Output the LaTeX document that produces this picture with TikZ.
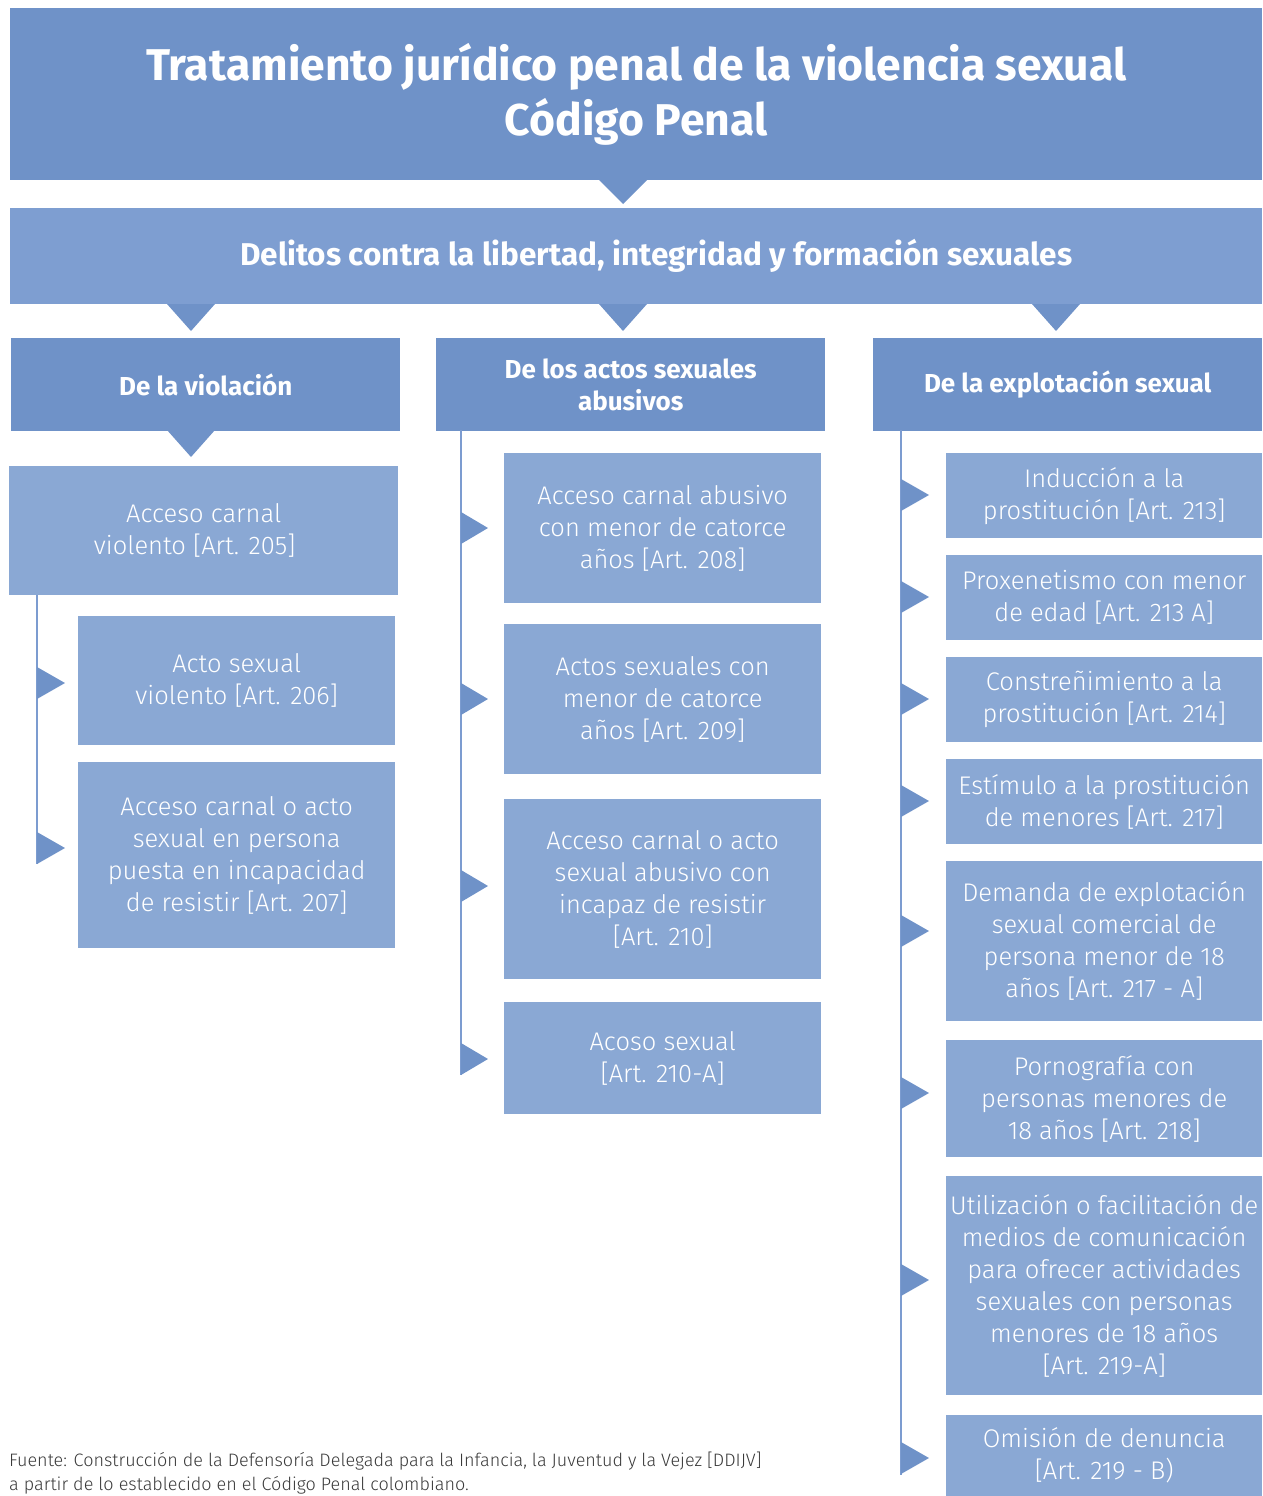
\documentclass[tikz,border=0pt]{standalone}
\usepackage{fontspec}
\setmainfont{Fira Sans Light}
\newfontfamily\hdf{Fira Sans}
\definecolor{hdr}{HTML}{6F92C8}
\definecolor{sub}{HTML}{7E9ED1}
\definecolor{itm}{HTML}{8AA8D4}
\definecolor{lin}{HTML}{7C9CD0}
\definecolor{foot}{HTML}{3A3A3A}
\begin{document}
\begin{tikzpicture}[x=1pt,y=-1pt,
  base/.style={draw=none, inner sep=0pt, anchor=north west, align=center, text=white},
  titlebox/.style={base, fill=hdr, font=\hdf\bfseries\fontsize{44.5}{55}\selectfont},
  subbox/.style={base, fill=sub, font=\hdf\bfseries\fontsize{31.5}{36}\selectfont},
  colbox/.style={base, fill=hdr, minimum width=389pt, minimum height=93pt, font=\hdf\bfseries\fontsize{26}{32}\selectfont},
  itembox/.style={base, fill=itm, font=\fontsize{25.5}{32}\selectfont},
  tri/.style={fill=hdr},
  vline/.style={draw=lin, line width=1.5pt}]
\useasboundingbox (0,0) rectangle (1263,1496);

% title
\node[titlebox, minimum width=1252pt, minimum height=172pt] (title) at (10,8)
  {Tratamiento jurídico penal de la violencia sexual\\Código Penal};
\fill[tri] (599,180) -- (647,180) -- (623,204) -- cycle;

\node[subbox, minimum width=1252pt, minimum height=96pt] (sub) at (10,208)
  {\hspace*{40pt}Delitos contra la libertad, integridad y formación sexuales};
\fill[tri] (167,304) -- (215,304) -- (191,331) -- cycle;
\fill[tri] (599,304) -- (647,304) -- (623,331) -- cycle;
\fill[tri] (1032,304) -- (1080,304) -- (1056,331) -- cycle;

% column headers
\node[colbox] (c1) at (11,338) {De la violación};
\node[colbox] (c2) at (436,338) {De los actos sexuales\\abusivos};
\node[colbox] (c3) at (873,338) {De la explotación sexual};
\fill[tri] (167,430) -- (215,430) -- (191,457) -- cycle;

% column 1
\node[itembox, minimum width=389pt, minimum height=129pt] (a205) at (9,466)
  {Acceso carnal\\violento [Art. 205]\hspace*{18pt}};
\node[itembox, minimum width=317pt, minimum height=129pt] (a206) at (78,616)
  {Acto sexual\\violento [Art. 206]};
\node[itembox, minimum width=317pt, minimum height=186pt] (a207) at (78,762)
  {Acceso carnal o acto\\sexual en persona\\puesta en incapacidad\\de resistir [Art. 207]};
\coordinate (l1s) at (37,595);
\coordinate (l1e) at (37,864);
\draw[vline] (l1s) -- (l1e);
\foreach \yy in {683, 848}
  \fill[tri] (37,\yy-16) -- (65,\yy) -- (37,\yy+16) -- cycle;

% column 2
\node[itembox, minimum width=317pt, minimum height=150pt] (a208) at (504,453)
  {Acceso carnal abusivo\\con menor de catorce\\años [Art. 208]};
\node[itembox, minimum width=317pt, minimum height=150pt] (a209) at (504,624)
  {Actos sexuales con\\menor de catorce\\años [Art. 209]};
\node[itembox, minimum width=317pt, minimum height=180pt] (a210) at (504,799)
  {Acceso carnal o acto\\sexual abusivo con\\incapaz de resistir\\{[}Art. 210{]}};
\node[itembox, minimum width=317pt, minimum height=112pt] (a210a) at (504,1002)
  {Acoso sexual\\{[}Art. 210-A{]}};
\coordinate (l2s) at (461,430);
\coordinate (l2e) at (461,1075);
\draw[vline] (l2s) -- (l2e);
\foreach \yy in {528, 699, 886, 1059}
  \fill[tri] (461,\yy-16) -- (488,\yy) -- (461,\yy+16) -- cycle;

% column 3
\node[itembox, minimum width=316pt, minimum height=85pt] (a213) at (946,453)
  {Inducción a la\\prostitución [Art. 213]};
\node[itembox, minimum width=316pt, minimum height=85pt] (a213a) at (946,555)
  {Proxenetismo con menor\\de edad [Art. 213 A]};
\node[itembox, minimum width=316pt, minimum height=85pt] (a214) at (946,657)
  {Constreñimiento a la\\prostitución [Art. 214]};
\node[itembox, minimum width=316pt, minimum height=85pt] (a217) at (946,759)
  {Estímulo a la prostitución\\de menores [Art. 217]};
\node[itembox, minimum width=316pt, minimum height=160pt] (a217a) at (946,861)
  {Demanda de explotación\\sexual comercial de\\persona menor de 18\\años [Art. 217 - A]};
\node[itembox, minimum width=316pt, minimum height=117pt] (a218) at (946,1040)
  {Pornografía con\\personas menores de\\18 años [Art. 218]};
\node[itembox, minimum width=316pt, minimum height=219pt] (a219a) at (946,1176)
  {Utilización o facilitación de\\medios de comunicación\\para ofrecer actividades\\sexuales con personas\\menores de 18 años\\{[}Art. 219-A{]}};
\node[itembox, minimum width=316pt, minimum height=81pt] (a219b) at (946,1415)
  {Omisión de denuncia\\{[}Art. 219 - B)};
\coordinate (l3s) at (901,430);
\coordinate (l3e) at (901,1475);
\draw[vline] (l3s) -- (l3e);
\foreach \yy in {495, 597, 699, 801, 931, 1093, 1280, 1458}
  \fill[tri] (901,\yy-16) -- (929,\yy) -- (901,\yy+16) -- cycle;

% footer
\node[anchor=west, inner sep=0pt, align=left, text=foot, font=\fontsize{18}{24}\selectfont] (foot) at (9,1473)
  {Fuente: Construcción de la Defensoría Delegada para la Infancia, la Juventud y la Vejez [DDIJV]\\a partir de lo establecido en el Código Penal colombiano.};
\end{tikzpicture}
\end{document}
